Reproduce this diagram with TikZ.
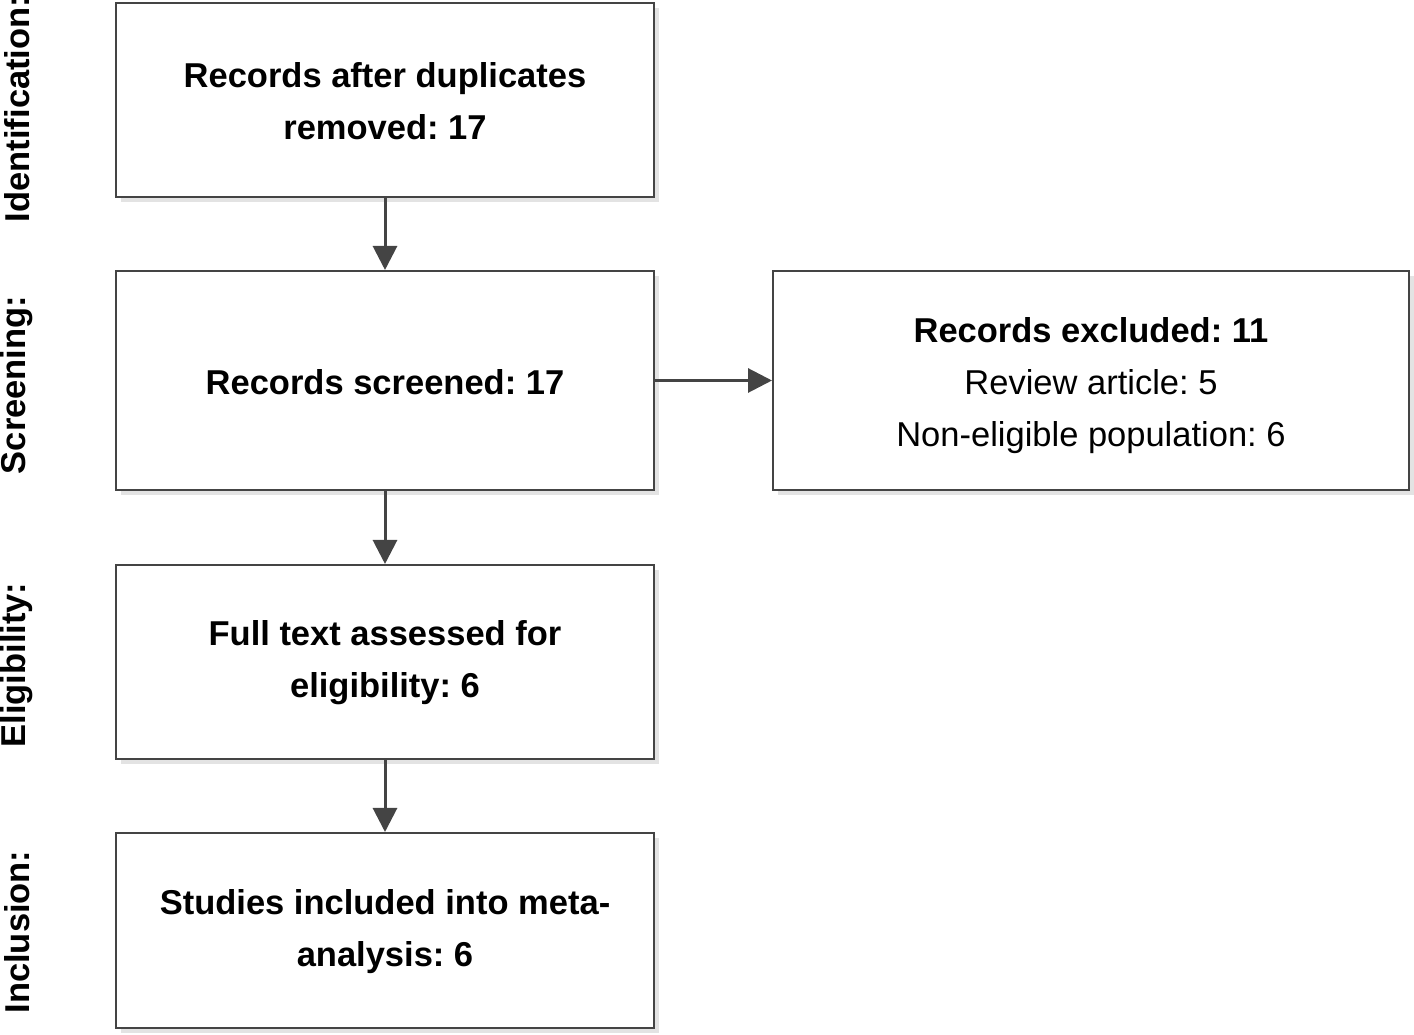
\documentclass[tikz,border=0pt]{standalone}
\usepackage{fontspec}
\setmainfont{Liberation Sans}
\usetikzlibrary{arrows.meta,shadows}
\definecolor{edge}{HTML}{444444}
\definecolor{shade}{HTML}{E3E3E3}
\newcommand\toppad[1]{\rule{0pt}{#1}}
\begin{document}
\frenchspacing
\begin{tikzpicture}[x=1pt,y=1pt,
  box/.style={draw=edge, line width=2pt, fill=white, minimum width=538pt,
    align=center, inner sep=0pt,
    font=\fontsize{34.5}{52}\selectfont,
    drop shadow={shadow xshift=5pt, shadow yshift=-5pt, fill=shade, opacity=1}},
  bbox/.style={box, font=\fontsize{34.5}{52}\selectfont\bfseries},
  phase/.style={rotate=90, font=\fontsize{34.5}{36}\selectfont\bfseries, inner sep=0pt},
  flow/.style={draw=edge, line width=3pt, -{Triangle[length=24pt,width=24pt]}}]
\useasboundingbox (0,0) rectangle (1414,1034);
\node[bbox, minimum height=194pt] (b1) at (385,934)
  {\toppad{27.2pt}Records after duplicates\\removed: 17};
\node[bbox, minimum height=219pt] (b2) at (385,653.5)
  {\toppad{29.2pt}Records screened: 17};
\node[box, minimum height=219pt, minimum width=636pt] (b3) at (1091,653.5)
  {\toppad{35.2pt}\textbf{Records excluded: 11}\\Review article: 5\\Non-eligible population: 6};
\node[bbox, minimum height=194pt] (b4) at (385,372)
  {\toppad{27.2pt}Full text assessed for\\eligibility: 6};
\node[bbox, minimum height=195pt] (b5) at (385,103.5)
  {\toppad{27.2pt}Studies included into meta-\\analysis: 6};
\node[phase] (p1) at (17,925) {Identification:};
\node[phase] (p2) at (17,649) {Screening:};
\node[phase] (p3) at (17,369) {Eligibility:};
\node[phase] (p4) at (17,102) {Inclusion:};
\draw[flow] (b1) -- (b2);
\draw[flow] (b2) -- (b4);
\draw[flow] (b4) -- (b5);
\draw[flow] (b2) -- (b3);
\end{tikzpicture}
\end{document}
